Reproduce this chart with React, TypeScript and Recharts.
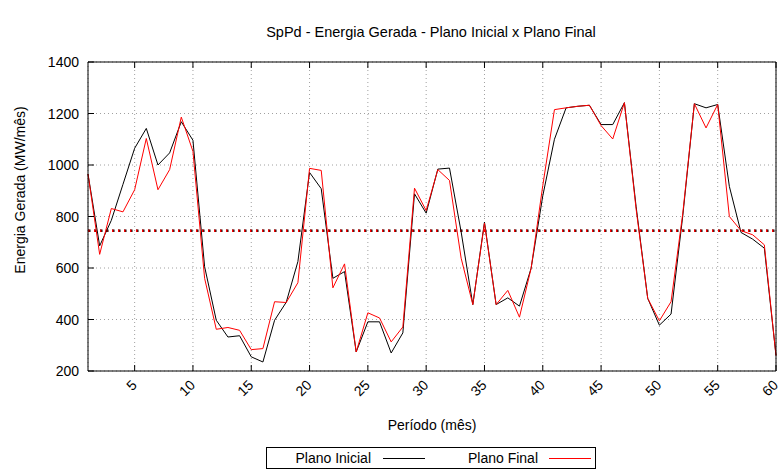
import React from 'react';
import { LineChart, Line, XAxis, YAxis, CartesianGrid, ReferenceLine } from 'recharts';

const months: number[] = [
  1, 2, 3, 4, 5, 6, 7, 8, 9, 10, 11, 12, 13, 14, 15, 16, 17, 18, 19, 20,
  21, 22, 23, 24, 25, 26, 27, 28, 29, 30, 31, 32, 33, 34, 35, 36, 37, 38, 39, 40,
  41, 42, 43, 44, 45, 46, 47, 48, 49, 50, 51, 52, 53, 54, 55, 56, 57, 58, 59, 60,
];

const planoInicial: number[] = [
  965, 686, 785, 925, 1065, 1142, 1000, 1047, 1168, 1096,
  605, 397, 332, 337, 255, 235, 397, 467, 625, 971,
  908, 560, 586, 274, 391, 391, 270, 348, 888, 813,
  984, 988, 740, 458, 778, 458, 484, 452, 599, 880,
  1100, 1222, 1228, 1232, 1157, 1157, 1242, 840, 482, 378,
  421, 800, 1238, 1222, 1235, 917, 738, 712, 677, 260,
];

const planoFinal: number[] = [
  965, 653, 831, 818, 904, 1103, 904, 982, 1186, 1053,
  560, 362, 369, 358, 283, 287, 469, 466, 543, 987,
  979, 523, 616, 274, 426, 406, 313, 371, 910, 823,
  982, 940, 638, 458, 774, 458, 513, 409, 599, 920,
  1215, 1222, 1228, 1232, 1153, 1101, 1242, 830, 482, 395,
  469, 810, 1238, 1144, 1235, 800, 745, 729, 690, 260,
];

const mediaInicial = 745;
const mediaFinal = 745;

const xTicks: number[] = [5, 10, 15, 20, 25, 30, 35, 40, 45, 50, 55, 60];
const yTicks: number[] = [200, 400, 600, 800, 1000, 1200, 1400];

const title = 'SpPd - Energia Gerada - Plano Inicial x Plano Final';
const xLabel = 'Período (mês)';
const yLabel = 'Energia Gerada (MW/mês)';
const seriesNames = ['Plano Inicial', 'Plano Final'];

const data = months.map((m, i) => ({ m, ini: planoInicial[i], fin: planoFinal[i] }));

const FONT = '"Liberation Sans", Arial, Helvetica, sans-serif';

const BottomTick = (props: any) => {
  const { x, y, payload } = props;
  const ax = x + 3;
  const ay = y + 15;
  return (
    <g>
      <line x1={x} y1={y} x2={x} y2={y - 6} stroke="#000" />
      <text x={ax} y={ay} transform={`rotate(-45, ${ax}, ${ay})`} textAnchor="end" fontSize={14} fill="#000" fontFamily={FONT}>
        {payload.value}
      </text>
    </g>
  );
};

const TopTick = (props: any) => {
  const { x, y } = props;
  return <line x1={x} y1={y} x2={x} y2={y + 6} stroke="#000" />;
};

const LeftTick = (props: any) => {
  const { x, y, payload } = props;
  return (
    <g>
      <line x1={x} y1={y} x2={x + 6} y2={y} stroke="#000" />
      <text x={x - 9} y={y + 5} textAnchor="end" fontSize={14} fill="#000" fontFamily={FONT}>
        {payload.value}
      </text>
    </g>
  );
};

const RightTick = (props: any) => {
  const { x, y } = props;
  return <line x1={x} y1={y} x2={x - 6} y2={y} stroke="#000" />;
};

export default function App() {
  return (
    <div style={{ position: 'absolute', left: 0, top: 0, width: 783, height: 476, background: '#fff', fontFamily: FONT }}>
      <LineChart width={783} height={476} data={data} margin={{ top: 61, right: 6, bottom: 75, left: 0 }}>
        <CartesianGrid stroke="#a0a0a0" strokeDasharray="1 3" />
        <XAxis
          dataKey="m"
          type="number"
          domain={[1, 60]}
          ticks={xTicks}
          height={30}
          tickSize={0}
          tickMargin={0}
          tickLine={false}
          axisLine={{ stroke: '#000' }}
          tick={<BottomTick />}
          interval={0}
        />
        <XAxis
          xAxisId="top"
          orientation="top"
          dataKey="m"
          type="number"
          domain={[1, 60]}
          ticks={xTicks}
          height={1}
          tickSize={0}
          tickMargin={0}
          tickLine={false}
          axisLine={{ stroke: '#000' }}
          tick={<TopTick />}
          interval={0}
        />
        <YAxis
          type="number"
          domain={[200, 1400]}
          ticks={yTicks}
          width={88}
          tickSize={0}
          tickMargin={0}
          tickLine={false}
          axisLine={{ stroke: '#000' }}
          tick={<LeftTick />}
          interval={0}
        />
        <YAxis
          yAxisId="right"
          orientation="right"
          type="number"
          domain={[200, 1400]}
          ticks={yTicks}
          width={1}
          tickSize={0}
          tickMargin={0}
          tickLine={false}
          axisLine={{ stroke: '#000' }}
          tick={<RightTick />}
          interval={0}
        />
        <ReferenceLine y={mediaInicial} stroke="#000" strokeWidth={2.5} strokeDasharray="2.5 3.5" />
        <ReferenceLine y={mediaFinal} stroke="#ff0000" strokeWidth={2.5} strokeDasharray="1.5 4.5" strokeDashoffset={0} />
        <Line type="linear" dataKey="ini" stroke="#000" strokeWidth={1} dot={false} isAnimationActive={false} />
        <Line type="linear" dataKey="fin" stroke="#ff0000" strokeWidth={1} dot={false} isAnimationActive={false} />
      </LineChart>

      <div style={{ position: 'absolute', left: 431, top: 32, transform: 'translate(-50%, -50%)', fontSize: 14.5, whiteSpace: 'nowrap', color: '#000' }}>
        {title}
      </div>
      <div style={{ position: 'absolute', left: 20, top: 190, transform: 'translate(-50%, -50%) rotate(-90deg)', fontSize: 14, whiteSpace: 'nowrap', color: '#000' }}>
        {yLabel}
      </div>
      <div style={{ position: 'absolute', left: 432, top: 425, transform: 'translate(-50%, -50%)', fontSize: 14, whiteSpace: 'nowrap', color: '#000' }}>
        {xLabel}
      </div>
      <div style={{ position: 'absolute', left: 266, top: 447, width: 330, height: 22, border: '1px solid #000', boxSizing: 'border-box', fontSize: 14, color: '#000' }}>
        <div style={{ position: 'absolute', right: 224, top: 2, whiteSpace: 'nowrap' }}>{seriesNames[0]}</div>
        <div style={{ position: 'absolute', left: 116, top: 10, width: 42, height: 0, borderTop: '1px solid #000' }} />
        <div style={{ position: 'absolute', right: 57, top: 2, whiteSpace: 'nowrap' }}>{seriesNames[1]}</div>
        <div style={{ position: 'absolute', left: 282, top: 10, width: 42, height: 0, borderTop: '1px solid #ff0000' }} />
      </div>
    </div>
  );
}
